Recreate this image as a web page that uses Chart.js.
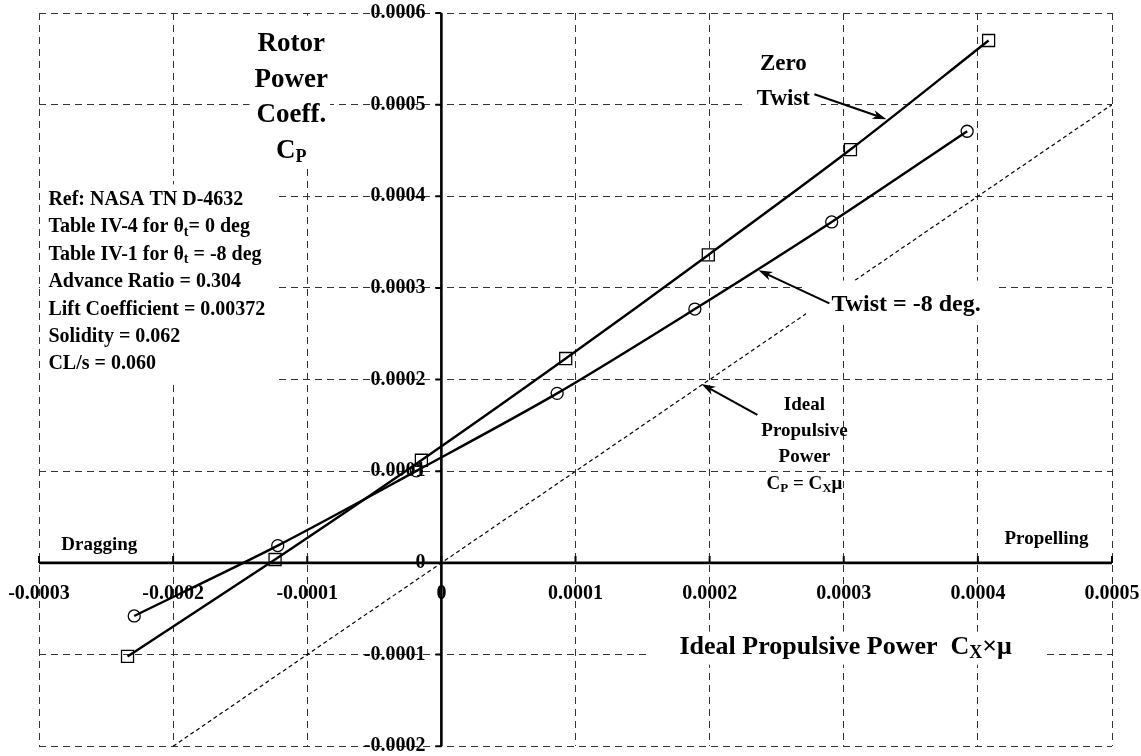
<!DOCTYPE html>
<html>
<head>
<meta charset="utf-8">
<script src="https://cdn.jsdelivr.net/npm/chart.js@4.4.0/dist/chart.umd.min.js"></script>
<style>
  body { margin: 0; background: #fff; }
  canvas { display: block; }
</style>
</head>
<body>
<canvas id="powerChart" width="1141" height="756"></canvas>
<script>
// x = ideal propulsive power Cx*mu, y = rotor power coeff Cp
let zeroTwistX = [-0.000234, -0.000124, -0.0000149, 0.0000927, 0.000199, 0.000305, 0.000408]
let zeroTwistY = [-0.000102, 0.0000037, 0.000112, 0.000223, 0.000336, 0.000451, 0.000570]

let twist8X = [-0.000229, -0.000122, -0.0000186, 0.0000863, 0.000189, 0.000291, 0.000392]
let twist8Y = [-0.0000579, 0.0000189, 0.0001004, 0.000185, 0.000277, 0.000372, 0.000471]

// Cp = Cx*mu
let idealX = [-0.0002, 0.0005]
let idealY = [-0.0002, 0.0005]

let xTicks = [-0.0003, -0.0002, -0.0001, 0, 0.0001, 0.0002, 0.0003, 0.0004, 0.0005]
let xTickLabels = ['-0.0003', '-0.0002', '-0.0001', '0', '0.0001', '0.0002', '0.0003', '0.0004', '0.0005']
let yTicks = [-0.0002, -0.0001, 0, 0.0001, 0.0002, 0.0003, 0.0004, 0.0005, 0.0006]
let yTickLabels = ['-0.0002', '-0.0001', '0', '0.0001', '0.0002', '0.0003', '0.0004', '0.0005', '0.0006']

let refLines = [
    [['Ref: NASA TN D-4632']],
    [['Table IV-4 for θ'], ['t', 1], ['= 0 deg']],
    [['Table IV-1 for θ'], ['t', 1], [' = -8 deg']],
    [['Advance Ratio = 0.304']],
    [['Lift Coefficient = 0.00372']],
    [['Solidity = 0.062']],
    [['CL/s = 0.060']]
]

function toPoints(xs, ys){
    return xs.map(function(x, i){ return {x: x, y: ys[i]} })
}

const FONT = "'Liberation Serif', 'Times New Roman', serif"

function setFont(ctx, size){
    ctx.font = 'bold ' + size + 'px ' + FONT
}

function richWidth(ctx, parts, size){
    let w = 0
    parts.forEach(function(p){
        setFont(ctx, p[1] ? Math.round(size * 0.68) : size)
        w += ctx.measureText(p[0]).width
    })
    return w
}

function drawRich(ctx, parts, x, y, size, align){
    let w = richWidth(ctx, parts, size)
    if(align === 'center') x -= w / 2
    ctx.textAlign = 'left'
    ctx.textBaseline = 'middle'
    parts.forEach(function(p){
        let s = p[1] ? Math.round(size * 0.68) : size
        setFont(ctx, s)
        ctx.fillText(p[0], x, p[1] ? y + size * 0.24 : y)
        x += ctx.measureText(p[0]).width
    })
    return w
}

function arrow(ctx, x1, y1, x2, y2){
    let a = Math.atan2(y2 - y1, x2 - x1)
    let c = Math.cos(a), s = Math.sin(a)
    ctx.lineWidth = 2
    ctx.beginPath()
    ctx.moveTo(x1, y1)
    ctx.lineTo(x2 - 8 * c, y2 - 8 * s)
    ctx.stroke()
    ctx.beginPath()
    ctx.moveTo(x2, y2)
    ctx.lineTo(x2 - 14 * c + 4.5 * s, y2 - 14 * s - 4.5 * c)
    ctx.lineTo(x2 - 10 * c, y2 - 10 * s)
    ctx.lineTo(x2 - 14 * c - 4.5 * s, y2 - 14 * s + 4.5 * c)
    ctx.closePath()
    ctx.fill()
}

// axes through the origin, tick labels and the notes; drawn right after the ideal line
let decorations = {
    id: 'decorations',
    afterDatasetDraw(chart, args){
        if(args.index !== 2) return
        let ctx = chart.ctx
        let xs = chart.scales.x, ys = chart.scales.y
        let area = chart.chartArea
        let X = function(v){ return xs.getPixelForValue(v) }
        let Y = function(v){ return ys.getPixelForValue(v) }
        let x0 = X(0), y0 = Y(0)

        ctx.save()
        ctx.fillStyle = '#000'
        ctx.strokeStyle = '#000'

        // white boxes behind notes
        ctx.fillStyle = '#fff'
        ctx.fillRect(area.left + 1, Y(0.000413), X(-0.000124) - area.left - 1, Y(0.0001985) - Y(0.000413))
        ctx.fillRect(X(-0.000143), Y(0.000597), X(-0.000083) - X(-0.000143), Y(0.000434) - Y(0.000597))
        ctx.fillRect(X(0.000228), Y(0.000565), X(0.000283) - X(0.000228), Y(0.000487) - Y(0.000565))
        ctx.fillRect(X(0.000272), Y(0.000308), X(0.000412) - X(0.000272), Y(0.000264) - Y(0.000308))
        ctx.fillRect(X(0.000154), Y(-0.000075), X(0.000448) - X(0.000154), Y(-0.000111) - Y(-0.000075))
        ctx.fillStyle = '#000'

        // axis lines
        ctx.lineWidth = 2.6
        ctx.beginPath()
        ctx.moveTo(area.left, y0)
        ctx.lineTo(area.right, y0)
        ctx.moveTo(x0, area.top)
        ctx.lineTo(x0, area.bottom)
        ctx.stroke()

        ctx.lineWidth = 2
        ctx.beginPath()
        xTicks.forEach(function(v){
            ctx.moveTo(X(v), y0 - 7)
            ctx.lineTo(X(v), y0)
        })
        yTicks.forEach(function(v){
            ctx.moveTo(x0 - 6, Y(v))
            ctx.lineTo(x0, Y(v))
        })
        ctx.stroke()

        // tick labels
        setFont(ctx, 20)
        ctx.textBaseline = 'middle'
        ctx.textAlign = 'center'
        xTicks.forEach(function(v, i){
            ctx.fillText(xTickLabels[i], X(v), y0 + 31)
        })
        ctx.textAlign = 'right'
        yTicks.forEach(function(v, i){
            ctx.fillText(yTickLabels[i], x0 - 16, Y(v))
        })

        // y axis title
        let cx = X(-0.0001119)
        drawRich(ctx, [['Rotor']], cx, Y(0.0005657), 27, 'center')
        drawRich(ctx, [['Power']], cx, Y(0.0005265), 27, 'center')
        drawRich(ctx, [['Coeff.']], cx, Y(0.0004885), 27, 'center')
        drawRich(ctx, [['C'], ['P', 1]], cx, Y(0.0004494), 27, 'center')

        // reference block
        let ry = Y(0.0003962)
        refLines.forEach(function(parts, i){
            drawRich(ctx, parts, X(-0.000293), ry + i * 27.4, 20, 'left')
        })

        // curve labels
        drawRich(ctx, [['Zero']], X(0.000255), Y(0.000544), 23, 'center')
        drawRich(ctx, [['Twist']], X(0.000255), Y(0.000506), 23, 'center')
        arrow(ctx, X(0.0002781), Y(0.0005114), X(0.0003318), Y(0.0004842))

        drawRich(ctx, [['Twist = -8 deg.']], X(0.0002908), Y(0.0002814), 24, 'left')
        arrow(ctx, X(0.0002893), Y(0.0002832), X(0.0002364), Y(0.0003194))

        let ix = X(0.0002707)
        drawRich(ctx, [['Ideal']], ix, Y(0.0001727), 19, 'center')
        drawRich(ctx, [['Propulsive']], ix, Y(0.0001440), 19, 'center')
        drawRich(ctx, [['Power']], ix, Y(0.0001152), 19, 'center')
        drawRich(ctx, [['C'], ['P', 1], [' = C'], ['X', 1], ['μ']], ix, Y(0.0000864), 19, 'center')
        arrow(ctx, X(0.0002356), Y(0.0001615), X(0.0001939), Y(0.0001952))

        drawRich(ctx, [['Dragging']], X(-0.000255), Y(0.0000192), 19, 'center')
        drawRich(ctx, [['Propelling']], X(0.0004512), Y(0.0000261), 19, 'center')

        // x axis title
        drawRich(ctx, [['Ideal Propulsive Power  C'], ['X', 1], ['×μ']], X(0.0001775), Y(-0.0000916), 26, 'left')

        ctx.restore()
    }
}

let gridStyle = {color: '#333', lineWidth: 1, drawTicks: false}

let myChart = new Chart(document.getElementById('powerChart').getContext('2d'), {
    type: 'scatter',
    data: {
        datasets: [{
            label: 'Zero Twist',
            data: toPoints(zeroTwistX, zeroTwistY),
            showLine: true,
            tension: 0.3,
            borderColor: '#000',
            borderWidth: 2.4,
            pointStyle: 'rect',
            pointRadius: 8.5,
            pointBorderWidth: 1.3,
            pointBorderColor: '#000',
            pointBackgroundColor: 'rgba(0,0,0,0)'
        }, {
            label: 'Twist = -8 deg',
            data: toPoints(twist8X, twist8Y),
            showLine: true,
            tension: 0.3,
            borderColor: '#000',
            borderWidth: 2.4,
            pointStyle: 'circle',
            pointRadius: 6,
            pointBorderWidth: 1.3,
            pointBorderColor: '#000',
            pointBackgroundColor: 'rgba(0,0,0,0)'
        }, {
            label: 'Ideal Propulsive Power',
            data: toPoints(idealX, idealY),
            showLine: true,
            borderColor: '#000',
            borderWidth: 1.2,
            borderDash: [4, 3],
            pointRadius: 0
        }]
    },
    options: {
        responsive: false,
        animation: false,
        devicePixelRatio: 1,
        layout: {padding: {left: 39, right: 29, top: 13, bottom: 6}},
        plugins: {legend: {display: false}, tooltip: {enabled: false}},
        scales: {
            x: {
                type: 'linear',
                min: -0.0003,
                max: 0.0005,
                ticks: {display: false, stepSize: 0.0001},
                grid: gridStyle,
                border: {display: false, dash: [7, 5]}
            },
            y: {
                type: 'linear',
                min: -0.0002,
                max: 0.0006,
                ticks: {display: false, stepSize: 0.0001},
                grid: gridStyle,
                border: {display: false, dash: [7, 5]}
            }
        }
    },
    plugins: [decorations]
})
</script>
</body>
</html>
